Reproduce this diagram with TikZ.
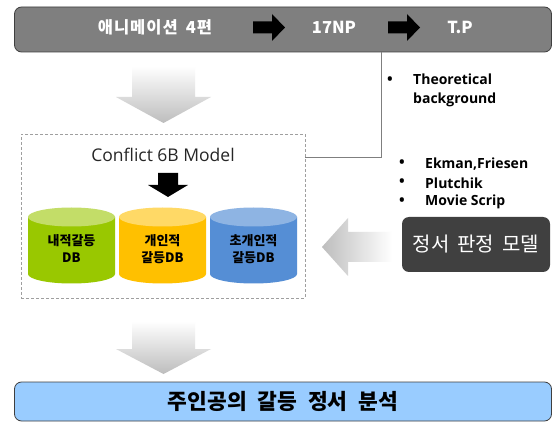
\documentclass[tikz,border=0pt]{standalone}
\usepackage{fontspec}
\setmainfont{Open Sans}
\newfontfamily\kr{Noto Sans CJK KR}
\definecolor{barfill}{HTML}{7F7F7F}
\definecolor{edgegray}{HTML}{3F3F3F}
\definecolor{linegray}{HTML}{7F7F7F}
\definecolor{darkbox}{HTML}{404040}
\definecolor{resultfill}{HTML}{99CCFF}
\definecolor{arrowgray}{HTML}{BDBDBD}
\definecolor{greenbody}{HTML}{99C800}
\definecolor{greentop}{HTML}{C3DD68}
\definecolor{yellowbody}{HTML}{FFC000}
\definecolor{yellowtop}{HTML}{FFD966}
\definecolor{bluebody}{HTML}{558ED5}
\definecolor{bluetop}{HTML}{8EB4E3}
\tikzset{
  roundbar/.style={draw=edgegray, line width=0.8pt, rounded corners=7pt, inner sep=0pt},
  bartext/.style={text=white, font=\kr\bfseries\fontsize{16.5}{19}\selectfont, inner sep=0pt},
  cyltext/.style={font=\kr\bfseries\fontsize{13}{17}\selectfont, align=center, inner sep=0pt},
  bullettext/.style={font=\bfseries\fontsize{14}{19}\selectfont, anchor=west, align=left, inner sep=0pt},
  dot/.style={font=\bfseries\fontsize{15}{15}\selectfont, inner sep=0pt},
}
\newcommand\dbcylinder[3]{%
  \fill[#2] (#1-43.5,217) -- (#1-43.5,274) arc[start angle=180, end angle=0, x radius=43.5, y radius=9.5] -- (#1+43.5,217) -- cycle;
  \fill[#3] (#1,217) ellipse[x radius=43.5, y radius=9.5];
}
\newcommand\wsp{\hspace{0.5em}}
\begin{document}
\begin{tikzpicture}[x=1pt,y=-1pt]
\useasboundingbox (0,0) rectangle (552,422);
\fill[white] (0,0) rectangle (552,422);

% top bar
\node[roundbar, fill=barfill, minimum width=537pt, minimum height=45pt] (bar) at (283,29.5) {};
\node[bartext] (anim) at (155,27) {\addfontfeatures{LetterSpace=6}애니메이션\wsp 4편};
\node[bartext] (np) at (334,27) {17NP};
\node[bartext] (tp) at (460,27) {T.P};
\fill[black] (253,21.5) -- (272,21.5) -- (272,14) -- (285,27.5) -- (272,41) -- (272,33.5) -- (253,33.5) -- cycle;
\fill[black] (388,21.5) -- (407,21.5) -- (407,14) -- (420,27.5) -- (407,41) -- (407,33.5) -- (388,33.5) -- cycle;

% gray arrow down 1
\shade[top color=white, bottom color=arrowgray] (132,66) -- (195,66) -- (195,97) -- (211,97) -- (163.5,123) -- (116,97) -- (132,97) -- cycle;

% dashed box
\node[draw=gray!75, dash pattern=on 3pt off 2pt, line width=0.6pt, minimum width=284pt, minimum height=164pt, inner sep=0pt] (box) at (163,216) {};
\node[font=\fontsize{17.5}{20}\selectfont, text=black!85, inner sep=0pt] (title) at (163,155) {Conflict 6B Model};
\fill[black] (158,173) -- (178,173) -- (178,185) -- (188,185) -- (168,197) -- (148,185) -- (158,185) -- cycle;

% cylinders
\dbcylinder{71.5}{greenbody}{greentop}
\dbcylinder{162.5}{yellowbody}{yellowtop}
\dbcylinder{253.5}{bluebody}{bluetop}
\node[cyltext] (db1) at (71.5,249) {내적갈등\\DB};
\node[cyltext] (db2) at (162.5,249) {개인적\\갈등DB};
\node[cyltext] (db3) at (253.5,249) {초개인적\\갈등DB};

% connector from top bar to box
\coordinate (bend) at (381,157);
\draw[linegray, line width=0.8pt] (bar.south -| bend) -- (bend) -- (box.east |- bend);

% theoretical background
\node[dot] (b1) at (390,81) {•};
\node[bullettext] (theo) at (413,90.5) {Theoretical\\background};

% list
\node[dot] (b2) at (402,164) {•};
\node[dot] (b3) at (402,183) {•};
\node[dot] (b4) at (402,202) {•};
\node[bullettext] (ekman) at (425,164) {Ekman,Friesen};
\node[bullettext] (plut) at (425,183) {Plutchik};
\node[bullettext] (movie) at (425,202) {Movie Scrip};

% emotion model box
\node[fill=darkbox, rounded corners=7pt, minimum width=148pt, minimum height=55pt, inner sep=0pt, text=white, font=\kr\fontsize{20}{23}\selectfont] (model) at (476,244.5) {정서\hspace{0.4em}판정\hspace{0.4em}모델};
\shade[left color=arrowgray, right color=white] (392,232) -- (348,232) -- (348,218) -- (322,247) -- (348,276) -- (348,262) -- (392,262) -- cycle;

% gray arrow down 2
\shade[top color=white, bottom color=arrowgray] (132,321) -- (195,321) -- (195,349) -- (211,349) -- (163.5,374) -- (116,349) -- (132,349) -- cycle;

% result box
\node[roundbar, fill=resultfill, minimum width=537pt, minimum height=39pt, font=\kr\bfseries\fontsize{21.5}{24}\selectfont] (result) at (283,401.5) {주인공의\hspace{0.5em}갈등\hspace{0.5em}정서\hspace{0.5em}분석};
\end{tikzpicture}
\end{document}
